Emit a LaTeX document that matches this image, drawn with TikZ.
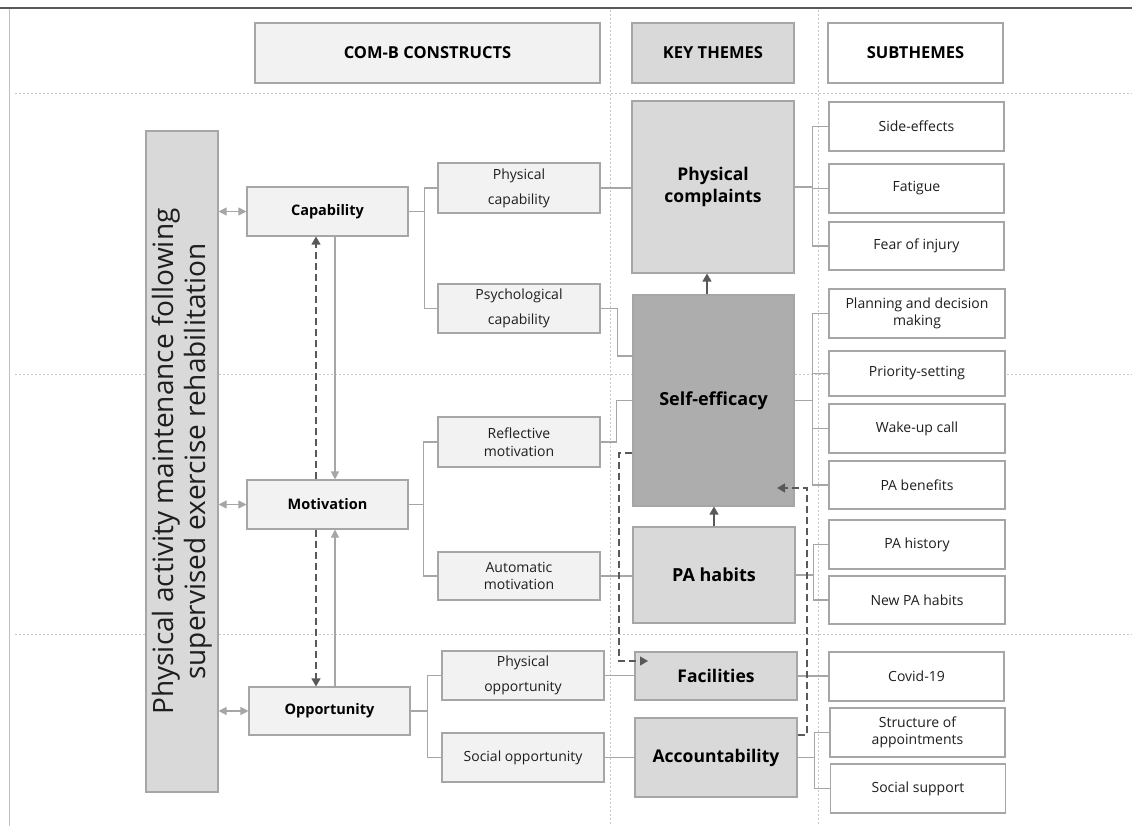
\documentclass[tikz,border=0pt]{standalone}
\usepackage{fontspec}
\setmainfont{Open Sans}
\usetikzlibrary{arrows.meta}
\definecolor{bgray}{HTML}{A6A6A6}
\definecolor{lfill}{HTML}{F2F2F2}
\definecolor{mfill}{HTML}{D9D9D9}
\definecolor{dfill}{HTML}{ADADAD}
\definecolor{adark}{HTML}{595959}
\definecolor{txt}{HTML}{1E1E1E}
\definecolor{gline}{HTML}{C8C8C8}
\definecolor{fline}{HTML}{BFBFBF}
\begin{document}
\begin{tikzpicture}[x=1pt,y=-1pt,
  bx/.style={draw=bgray, line width=1.1pt, inner sep=2pt, align=center, text=txt},
  hbox/.style={bx, font=\fontsize{16.5}{19}\selectfont\bfseries, text=black, minimum height=60pt},
  cbox/.style={bx, fill=lfill, font=\fontsize{14.5}{17}\selectfont\bfseries, text=black, minimum width=161pt},
  sbox/.style={bx, fill=lfill, font=\fontsize{14}{17.5}\selectfont, minimum width=162pt},
  kbox/.style={bx, fill=mfill, font=\fontsize{17.5}{22}\selectfont\bfseries, text=black, minimum width=162pt},
  tbox/.style={bx, fill=white, font=\fontsize{14}{17.5}\selectfont, minimum width=175pt},
  conn/.style={draw=bgray, line width=1.1pt},
  larr/.style={conn, -{Triangle[width=8pt,length=8pt]}},
  dblarr/.style={conn, {Triangle[width=8pt,length=8pt]}-{Triangle[width=8pt,length=8pt]}},
  darr/.style={draw=adark, line width=1.2pt, -{Triangle[width=9pt,length=8pt]}},
  ddash/.style={darr, dash pattern=on 7pt off 4pt},
  gridln/.style={draw=gline, line width=0.7pt, dash pattern=on 2pt off 2pt},
]
\useasboundingbox (0,0) rectangle (1132,826);
% frame
\draw[fline, line width=0.9pt] (9,8) -- (9,826);
\draw[adark, line width=2pt] (0,8) -- (1132,8);
% background guide lines
\draw[gridln] (15,93) -- (1132,93);
\draw[gridln] (15,374) -- (1132,374);
\draw[gridln] (15,634) -- (1132,634);
\draw[gridln] (610,10) -- (610,826);
\draw[gridln] (818,10) -- (818,826);

% headers
\node[hbox, fill=lfill, minimum width=345pt] (hcom) at (427.5,53) {COM-B CONSTRUCTS};
\node[hbox, fill=mfill, minimum width=162pt] (hkey) at (713,53) {KEY THEMES};
\node[hbox, fill=white, minimum width=175pt] (hsub) at (915.5,53) {SUBTHEMES};

% main box
\node[bx, fill=mfill, minimum width=72pt, minimum height=661pt] (main) at (182,461.5) {};
\node[rotate=90, align=center, text=txt, font=\fontsize{28}{32}\selectfont] (maintxt) at (main.center) {Physical activity maintenance following\\supervised exercise rehabilitation};

% COM-B constructs
\node[cbox, minimum height=49pt] (cap) at (327.5,211.5) {Capability};
\node[cbox, minimum height=49pt] (mot) at (327.5,504.5) {Motivation};
\node[cbox, minimum height=48pt] (opp) at (329.5,711) {Opportunity};

% sub-constructs
\node[sbox, minimum height=50pt, font=\fontsize{14}{25}\selectfont] (pcap) at (519,188) {Physical\\capability};
\node[sbox, minimum height=49pt, font=\fontsize{14}{25}\selectfont] (scap) at (519,308.5) {Psychological\\capability};
\node[sbox, minimum height=50pt] (rmot) at (519,442) {Reflective\\motivation};
\node[sbox, minimum height=48pt] (amot) at (519,576) {Automatic\\motivation};
\node[sbox, minimum height=49pt, font=\fontsize{14}{25}\selectfont] (popp) at (523,675.5) {Physical\\opportunity};
\node[sbox, minimum height=49pt] (sopp) at (523,757.5) {Social opportunity};

% key themes
\node[kbox, minimum height=172pt] (pc) at (713,187) {Physical\\complaints};
\node[kbox, fill=dfill, minimum width=161pt, minimum height=211pt, font=\fontsize{18}{22}\selectfont\bfseries] (se) at (713.5,400.5) {Self-efficacy};
\node[kbox, minimum height=96pt, font=\fontsize{18}{22}\selectfont\bfseries] (pah) at (714,575) {PA habits};
\node[kbox, minimum height=48pt] (fac) at (716,676) {Facilities};
\node[kbox, minimum height=79pt] (acc) at (716,757.5) {Accountability};

% subthemes
\node[tbox, minimum height=49pt] (s1) at (916.5,126.5) {Side-effects};
\node[tbox, minimum height=49pt] (s2) at (916.5,188.5) {Fatigue};
\node[tbox, minimum height=48pt] (s3) at (916.5,246) {Fear of injury};
\node[tbox, minimum width=176pt, minimum height=49pt] (s4) at (917,313.5) {Planning and decision\\making};
\node[tbox, minimum width=176pt, minimum height=45pt] (s5) at (917,373.5) {Priority-setting};
\node[tbox, minimum width=176pt, minimum height=49pt] (s6) at (917,428.5) {Wake-up call};
\node[tbox, minimum width=176pt, minimum height=48pt] (s7) at (917,485) {PA benefits};
\node[tbox, minimum width=176pt, minimum height=49pt] (s8) at (917,544.5) {PA history};
\node[tbox, minimum width=176pt, minimum height=48pt] (s9) at (917,600) {New PA habits};
\node[tbox, minimum height=49pt] (s10) at (916.5,676.5) {Covid-19};
\node[tbox, minimum height=49pt] (s11) at (917.5,732.5) {Structure of\\appointments};
\node[tbox, minimum height=49pt] (s12) at (918,788.5) {Social support};

% main <-> constructs
\draw[dblarr] (main.east |- cap.west) -- (cap.west);
\draw[dblarr] (main.east |- mot.west) -- (mot.west);
\draw[dblarr] (main.east |- opp.west) -- (opp.west);

% vertical links between constructs
\draw[ddash] (316,0 |- mot.north) -- (316,0 |- cap.south);
\draw[larr] (335,0 |- cap.south) -- (335,0 |- mot.north);
\draw[ddash] (316,0 |- mot.south) -- (316,0 |- opp.north);
\draw[larr] (335,0 |- opp.north) -- (335,0 |- mot.south);

% trees constructs -> sub-constructs
\draw[conn] (cap.east) -- ++(16,0) |- (pcap.west);
\draw[conn] (cap.east) -- ++(16,0) |- (scap.west);
\draw[conn] (mot.east) -- ++(15,0) |- (rmot.west);
\draw[conn] (mot.east) -- ++(15,0) |- (amot.west);
\draw[conn] (opp.east) -- ++(17,0) |- (popp.west);
\draw[conn] (opp.east) -- ++(17,0) |- (sopp.west);

% sub-constructs -> key themes
\draw[conn] (pcap.east) -- (pcap.east -| pc.west);
\draw[conn] (scap.east) -- ++(17,0) |- (se.west |- 0,356);
\draw[conn] (rmot.east) -- ++(16,0) |- (se.west);
\draw[conn] (amot.east) -- (amot.east -| pah.west);
\draw[conn] (popp.east) -- (popp.east -| fac.west);
\draw[conn] (sopp.east) -- (sopp.east -| acc.west);

% key themes -> subthemes
\foreach \s in {s1,s2,s3} \draw[conn] (pc.east) -- ++(18,0) |- (\s.west);
\foreach \s in {s4,s5,s6,s7} \draw[conn] (se.east) -- ++(18,0) |- (\s.west);
\foreach \s in {s8,s9} \draw[conn] (pah.east) -- ++(18,0) |- (\s.west);
\draw[conn] (fac.east) -- (fac.east -| s10.west);
\foreach \s in {s11,s12} \draw[conn] (acc.east) -- ++(17,0) |- (\s.west);

% arrows between key themes
\draw[darr] ([xshift=-6.5pt]se.north) -- ([xshift=-6.5pt]se.north |- pc.south);
\draw[darr] (pah.north) -- (pah.north |- se.south);

% dashed loops
\coordinate (fa) at (648,661);
\draw[ddash] (se.west |- 0,453) -- (619,453) -- (619,661) -- (fa);
\coordinate (sa) at (777,488);
\draw[ddash] (acc.east |- 0,735) -- (807,735) -- (807,488) -- (sa);
\end{tikzpicture}
\end{document}
